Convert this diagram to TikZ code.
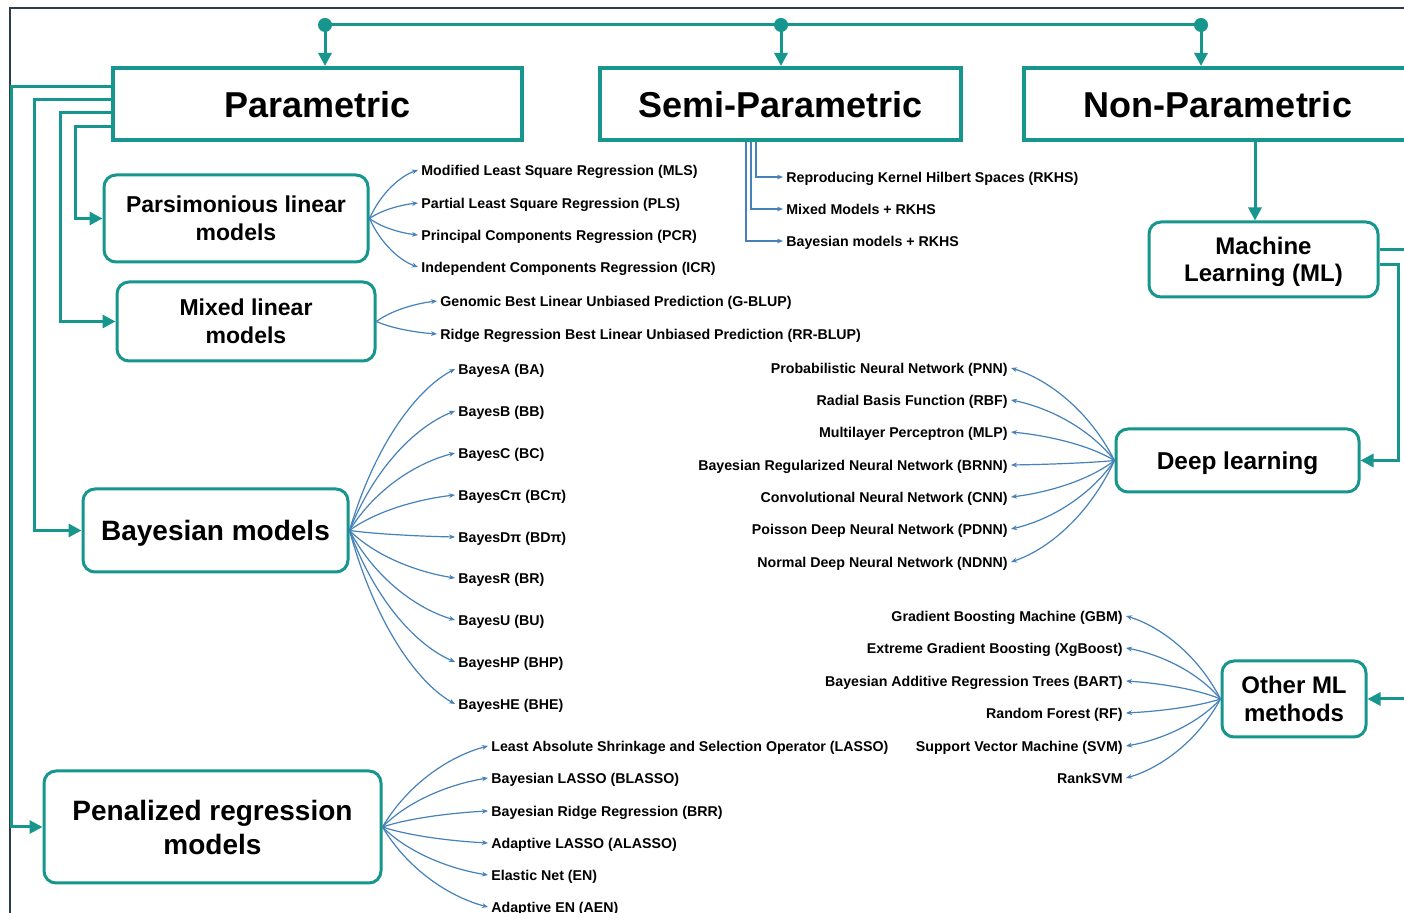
\documentclass[tikz,border=0pt]{standalone}
\usepackage{fontspec}
\setmainfont{Liberation Sans}
\usetikzlibrary{arrows.meta,calc}
\definecolor{teal1}{RGB}{22,150,140}
\definecolor{fanblue}{RGB}{70,130,185}
\definecolor{framecol}{RGB}{45,60,75}
\newcommand\fanline[2]{\draw[fan] let \p1=(#1), \p2=(#2) in (\p1) .. controls ({\x1+0.25*(\x2-\x1)},{\y1+0.55*(\y2-\y1)}) and ({\x2-0.35*(\x2-\x1)},{\y2-0.12*(\y2-\y1)}) .. (\p2);}
\begin{document}
\begin{tikzpicture}[x=0.5pt,y=-0.5pt,
  topbox/.style={draw=teal1, line width=2pt, font=\bfseries\fontsize{18}{20}\selectfont, inner sep=0pt},
  rbox/.style={draw=teal1, line width=1.5pt, rounded corners=6pt, align=center, inner sep=0pt},
  lbl/.style={font=\bfseries\fontsize{7.1}{8}\selectfont, inner xsep=1.5pt, inner ysep=0pt, text height=5.1pt, text depth=0pt},
  tline/.style={draw=teal1, line width=1.5pt},
  tarrow/.style={tline, -{Triangle[length=6.5pt,width=6.5pt]}},
  fan/.style={draw=fanblue, line width=0.6pt, -{Stealth[length=3pt,width=2.4pt]}},
  sline/.style={draw=fanblue, line width=0.6pt, -{Stealth[length=3pt,width=2.4pt]}}]
\useasboundingbox (0,0) rectangle (1404,913);
\clip (0,0) rectangle (1404,913);
\fill[white] (0,0) rectangle (1404,913);
\draw[framecol, line width=1pt] (10,920) -- (10,8) -- (1410,8);

% top boxes
\node[topbox, minimum width=204.5pt, minimum height=36pt, text depth=0pt] (P) at (317.5,104) {Parametric};
\node[topbox, minimum width=180.5pt, minimum height=36pt, text depth=0pt] (S) at (780.5,104) {Semi-Parametric};
\node[topbox, minimum width=194pt, minimum height=36pt, text depth=0pt] (N) at (1218,104) {Non-Parametric};

% top bus
\coordinate (d1) at (325,25);
\coordinate (d2) at (781,25);
\coordinate (d3) at (1201,25);
\draw[tline] (d1) -- (d3);
\foreach \d in {d1,d2,d3} \fill[teal1] (\d) circle[radius=3.5pt];
\draw[tarrow] (d1) -- (d1 |- P.north);
\draw[tarrow] (d2) -- (d2 |- S.north);
\draw[tarrow] (d3) -- (d3 |- N.north);

% rounded boxes
\node[rbox, minimum width=132pt, minimum height=43.5pt, font=\bfseries\fontsize{11.5}{14}\selectfont] (Pa) at (236,218.5) {Parsimonious linear\\models};
\node[rbox, minimum width=129pt, minimum height=39.5pt, font=\bfseries\fontsize{11.5}{14}\selectfont] (Mx) at (246,321.5) {Mixed linear\\models};
\node[rbox, minimum width=132.5pt, minimum height=41.5pt, text depth=0pt, font=\bfseries\fontsize{14}{17}\selectfont] (B) at (215.5,530.5) {Bayesian models};
\node[rbox, minimum width=168.5pt, minimum height=56pt, font=\bfseries\fontsize{14}{17}\selectfont] (Pen) at (212.5,827) {Penalized regression\\models};
\node[rbox, minimum width=114.5pt, minimum height=37.5pt, text depth=0pt, font=\bfseries\fontsize{12}{13.5}\selectfont] (ML) at (1263.5,259.5) {Machine\\Learning (ML)};
\node[rbox, minimum width=121.5pt, minimum height=31.5pt, text depth=0pt, font=\bfseries\fontsize{12.2}{14}\selectfont] (DL) at (1237.5,460.5) {Deep learning};
\node[rbox, minimum width=72pt, minimum height=38pt, font=\bfseries\fontsize{12}{14}\selectfont] (O) at (1294,699) {Other ML\\methods};

% parametric connectors
\draw[tarrow] ([yshift=8.5pt]P.west) -| ([xshift=-15.5pt]Pen.west) -- (Pen.west);
\draw[tarrow] ([yshift=2pt]P.west) -| ([xshift=-23.5pt]B.west) -- (B.west);
\draw[tarrow] ([yshift=-4.5pt]P.west) -| ([xshift=-27.5pt]Mx.west) -- (Mx.west);
\draw[tarrow] ([yshift=-11.5pt]P.west) -| ([xshift=-13.5pt]Pa.west) -- (Pa.west);

% non-parametric connectors
\coordinate (mlin) at ([xshift=-4.25pt]ML.north);
\draw[tarrow] (mlin |- N.south) -- (mlin);
\coordinate (bendR) at (1412,699);
\draw[tarrow] ([yshift=4.75pt]ML.east) -| (bendR) -- (O.east);
\draw[tarrow] ([yshift=-2.75pt]ML.east) -| ([xshift=19pt]DL.east) -- (DL.east);

% parsimonious labels
\node[lbl, anchor=west] (p1) at (418,170) {Modified Least Square Regression (MLS)};
\node[lbl, anchor=west] (p2) at (418,203) {Partial Least Square Regression (PLS)};
\node[lbl, anchor=west] (p3) at (418,235) {Principal Components Regression (PCR)};
\node[lbl, anchor=west] (p4) at (418,267) {Independent Components Regression (ICR)};
\foreach \t in {p1,p2,p3,p4} {\fanline{Pa.east}{\t.west}}

% mixed labels
\node[lbl, anchor=west] (m1) at (437,301) {Genomic Best Linear Unbiased Prediction (G-BLUP)};
\node[lbl, anchor=west] (m2) at (437,334) {Ridge Regression Best Linear Unbiased Prediction (RR-BLUP)};
\foreach \t in {m1,m2} {\fanline{Mx.east}{\t.west}}

% semi-parametric labels
\node[lbl, anchor=west] (s1) at (783,177) {Reproducing Kernel Hilbert Spaces (RKHS)};
\node[lbl, anchor=west] (s2) at (783,209) {Mixed Models + RKHS};
\node[lbl, anchor=west] (s3) at (783,241) {Bayesian models + RKHS};
\draw[sline] ([xshift=-12.25pt]S.south) |- (s1.west);
\draw[sline] ([xshift=-14.75pt]S.south) |- (s2.west);
\draw[sline] ([xshift=-17.25pt]S.south) |- (s3.west);

% bayesian labels
\node[lbl, anchor=west] (b1) at (455,369) {BayesA (BA)};
\node[lbl, anchor=west] (b2) at (455,411) {BayesB (BB)};
\node[lbl, anchor=west] (b3) at (455,453) {BayesC (BC)};
\node[lbl, anchor=west] (b4) at (455,495) {BayesCπ (BCπ)};
\node[lbl, anchor=west] (b5) at (455,537) {BayesDπ (BDπ)};
\node[lbl, anchor=west] (b6) at (455,578) {BayesR (BR)};
\node[lbl, anchor=west] (b7) at (455,620) {BayesU (BU)};
\node[lbl, anchor=west] (b8) at (455,662) {BayesHP (BHP)};
\node[lbl, anchor=west] (b9) at (455,704) {BayesHE (BHE)};
\foreach \t in {b1,b2,b3,b4,b5,b6,b7,b8,b9} {\fanline{B.east}{\t.west}}

% penalized labels
\node[lbl, anchor=west] (e1) at (488,746) {Least Absolute Shrinkage and Selection Operator (LASSO)};
\node[lbl, anchor=west] (e2) at (488,778) {Bayesian LASSO (BLASSO)};
\node[lbl, anchor=west] (e3) at (488,811) {Bayesian Ridge Regression (BRR)};
\node[lbl, anchor=west] (e4) at (488,843) {Adaptive LASSO (ALASSO)};
\node[lbl, anchor=west] (e5) at (488,875) {Elastic Net (EN)};
\node[lbl, anchor=west] (e6) at (488,907) {Adaptive EN (AEN)};
\foreach \t in {e1,e2,e3,e4,e5,e6} {\fanline{Pen.east}{\t.west}}

% deep learning labels
\node[lbl, anchor=east] (k1) at (1011,368) {Probabilistic Neural Network (PNN)};
\node[lbl, anchor=east] (k2) at (1011,400) {Radial Basis Function (RBF)};
\node[lbl, anchor=east] (k3) at (1011,432) {Multilayer Perceptron (MLP)};
\node[lbl, anchor=east] (k4) at (1011,465) {Bayesian Regularized Neural Network (BRNN)};
\node[lbl, anchor=east] (k5) at (1011,497) {Convolutional Neural Network (CNN)};
\node[lbl, anchor=east] (k6) at (1011,529) {Poisson Deep Neural Network (PDNN)};
\node[lbl, anchor=east] (k7) at (1011,562) {Normal Deep Neural Network (NDNN)};
\foreach \t in {k1,k2,k3,k4,k5,k6,k7} {\fanline{DL.west}{\t.east}}

% other ML labels
\node[lbl, anchor=east] (o1) at (1126,616) {Gradient Boosting Machine (GBM)};
\node[lbl, anchor=east] (o2) at (1126,648) {Extreme Gradient Boosting (XgBoost)};
\node[lbl, anchor=east] (o3) at (1126,681) {Bayesian Additive Regression Trees (BART)};
\node[lbl, anchor=east] (o4) at (1126,713) {Random Forest (RF)};
\node[lbl, anchor=east] (o5) at (1126,746) {Support Vector Machine (SVM)};
\node[lbl, anchor=east] (o6) at (1126,778) {RankSVM};
\foreach \t in {o1,o2,o3,o4,o5,o6} {\fanline{O.west}{\t.east}}
\end{tikzpicture}
\end{document}
